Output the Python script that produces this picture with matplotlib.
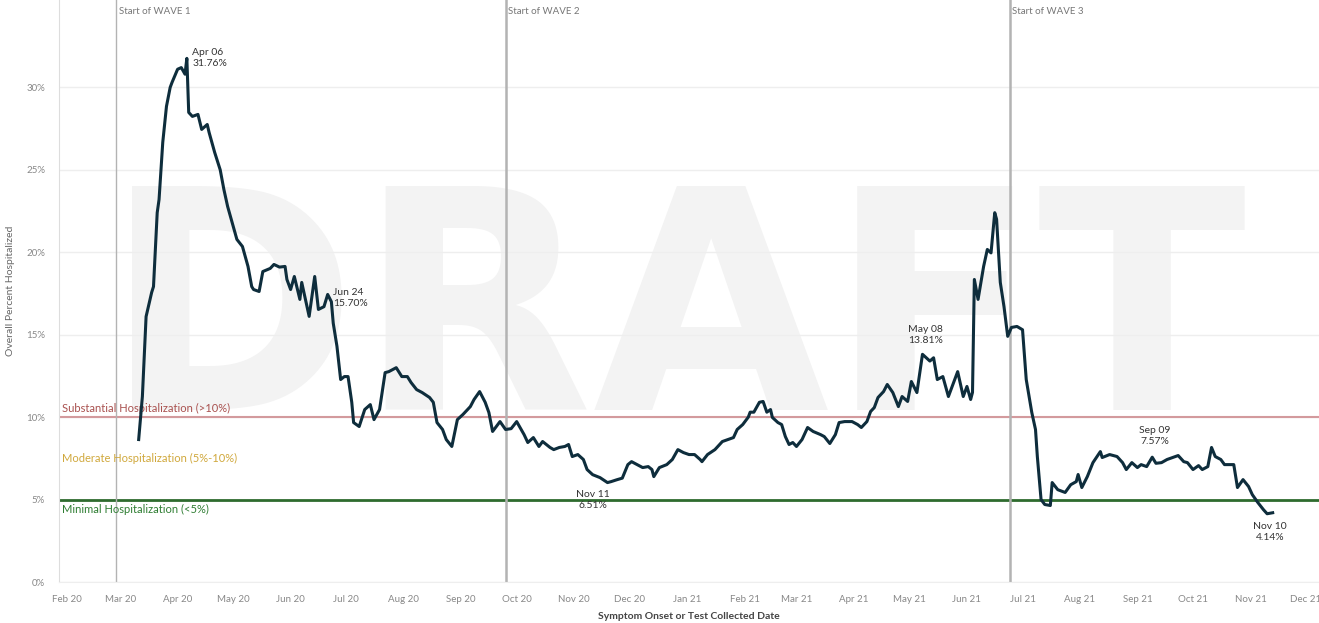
import matplotlib.pyplot as plt
import matplotlib.dates as mdates
import pandas as pd

plt.rcParams['font.family'] = ['Lato', 'DejaVu Sans']

# values (percent hospitalized)
dates = [
    "2020-03-11", "2020-03-13", "2020-03-15", "2020-03-18", "2020-03-19", "2020-03-21",
    "2020-03-22", "2020-03-24", "2020-03-26", "2020-03-28", "2020-03-29", "2020-04-01",
    "2020-04-03", "2020-04-05", "2020-04-06", "2020-04-07", "2020-04-09", "2020-04-12",
    "2020-04-14", "2020-04-17", "2020-04-18", "2020-04-21", "2020-04-24", "2020-04-26",
    "2020-04-28", "2020-05-01", "2020-05-03", "2020-05-06", "2020-05-09", "2020-05-11",
    "2020-05-12", "2020-05-15", "2020-05-17", "2020-05-21", "2020-05-23", "2020-05-26",
    "2020-05-29", "2020-05-30", "2020-06-01", "2020-06-03", "2020-06-06", "2020-06-07",
    "2020-06-11", "2020-06-14", "2020-06-16", "2020-06-19", "2020-06-21", "2020-06-23",
    "2020-06-24", "2020-06-26", "2020-06-28", "2020-06-30", "2020-07-02", "2020-07-04",
    "2020-07-05", "2020-07-08", "2020-07-11", "2020-07-14", "2020-07-16", "2020-07-19",
    "2020-07-22", "2020-07-24", "2020-07-28", "2020-07-31", "2020-08-03", "2020-08-05",
    "2020-08-08", "2020-08-11", "2020-08-15", "2020-08-17", "2020-08-19", "2020-08-22",
    "2020-08-24", "2020-08-27", "2020-08-30", "2020-09-02", "2020-09-06", "2020-09-08",
    "2020-09-11", "2020-09-14", "2020-09-16", "2020-09-18", "2020-09-22", "2020-09-25",
    "2020-09-28", "2020-10-01", "2020-10-05", "2020-10-07", "2020-10-10", "2020-10-13",
    "2020-10-15", "2020-10-19", "2020-10-21", "2020-10-24", "2020-10-27", "2020-10-29",
    "2020-10-31", "2020-11-03", "2020-11-06", "2020-11-08", "2020-11-11", "2020-11-15",
    "2020-11-19", "2020-11-21", "2020-11-24", "2020-11-27", "2020-11-30", "2020-12-02",
    "2020-12-05", "2020-12-08", "2020-12-11", "2020-12-13", "2020-12-14", "2020-12-17",
    "2020-12-21", "2020-12-24", "2020-12-27", "2020-12-30", "2021-01-02", "2021-01-05",
    "2021-01-08", "2021-01-09", "2021-01-12", "2021-01-16", "2021-01-20", "2021-01-23",
    "2021-01-26", "2021-01-28", "2021-01-31", "2021-02-03", "2021-02-04", "2021-02-06",
    "2021-02-09", "2021-02-11", "2021-02-13", "2021-02-15", "2021-02-16", "2021-02-19",
    "2021-02-21", "2021-02-23", "2021-02-25", "2021-02-27", "2021-03-01", "2021-03-04",
    "2021-03-07", "2021-03-10", "2021-03-14", "2021-03-16", "2021-03-19", "2021-03-22",
    "2021-03-24", "2021-03-27", "2021-03-31", "2021-04-03", "2021-04-05", "2021-04-08",
    "2021-04-10", "2021-04-12", "2021-04-14", "2021-04-17", "2021-04-19", "2021-04-22",
    "2021-04-25", "2021-04-27", "2021-04-30", "2021-05-02", "2021-05-05", "2021-05-08",
    "2021-05-12", "2021-05-14", "2021-05-16", "2021-05-19", "2021-05-22", "2021-05-24",
    "2021-05-27", "2021-05-30", "2021-06-01", "2021-06-03", "2021-06-04", "2021-06-05",
    "2021-06-07", "2021-06-10", "2021-06-12", "2021-06-14", "2021-06-16", "2021-06-17",
    "2021-06-19", "2021-06-21", "2021-06-23", "2021-06-25", "2021-06-28", "2021-07-01",
    "2021-07-03", "2021-07-06", "2021-07-08", "2021-07-09", "2021-07-11", "2021-07-13",
    "2021-07-16", "2021-07-17", "2021-07-20", "2021-07-24", "2021-07-27", "2021-07-30",
    "2021-07-31", "2021-08-02", "2021-08-05", "2021-08-08", "2021-08-12", "2021-08-13",
    "2021-08-17", "2021-08-21", "2021-08-24", "2021-08-26", "2021-08-29", "2021-09-01",
    "2021-09-03", "2021-09-06", "2021-09-09", "2021-09-11", "2021-09-14", "2021-09-17",
    "2021-09-20", "2021-09-23", "2021-09-26", "2021-09-28", "2021-10-01", "2021-10-04",
    "2021-10-06", "2021-10-09", "2021-10-11", "2021-10-13", "2021-10-16", "2021-10-18",
    "2021-10-21", "2021-10-23", "2021-10-25", "2021-10-28", "2021-10-31", "2021-11-02",
    "2021-11-05", "2021-11-08", "2021-11-10", "2021-11-13",
]
pct = [
    8.64, 11.25, 16.1, 17.56, 17.92, 22.4,
    23.2, 26.67, 28.85, 30.0, 30.3, 31.1,
    31.2, 30.8, 31.76, 28.48, 28.24, 28.36,
    27.45, 27.75, 27.27, 26.06, 25.0, 23.8,
    22.78, 21.57, 20.78, 20.35, 19.14, 17.92,
    17.74, 17.62, 18.83, 19.02, 19.26, 19.1,
    19.14, 18.35, 17.74, 18.53, 17.14, 18.17,
    16.11, 18.53, 16.53, 16.7, 17.44, 17.0,
    15.70, 14.3, 12.28, 12.46, 12.46, 10.9,
    9.67, 9.43, 10.46, 10.76, 9.85, 10.46,
    12.7, 12.76, 13.0, 12.46, 12.46, 12.1,
    11.67, 11.49, 11.19, 10.9, 9.67, 9.25,
    8.64, 8.22, 9.85, 10.16, 10.64, 11.07,
    11.55, 10.9, 10.28, 9.13, 9.73, 9.25,
    9.3, 9.73, 8.94, 8.46, 8.76, 8.22,
    8.52, 8.16, 8.03, 8.16, 8.22, 8.34,
    7.61, 7.73, 7.43, 6.82, 6.51, 6.33,
    6.03, 6.09, 6.2, 6.3, 7.12, 7.3,
    7.12, 6.94, 7.0, 6.82, 6.39, 6.94,
    7.12, 7.43, 8.03, 7.85, 7.73, 7.73,
    7.43, 7.3, 7.73, 8.03, 8.52, 8.64,
    8.76, 9.25, 9.55, 10.0, 10.3, 10.3,
    10.9, 10.95, 10.3, 10.46, 9.98, 9.67,
    9.55, 8.82, 8.34, 8.46, 8.22, 8.64,
    9.37, 9.13, 8.94, 8.82, 8.4, 8.94,
    9.67, 9.73, 9.73, 9.55, 9.37, 9.73,
    10.34, 10.58, 11.19, 11.55, 11.98, 11.49,
    10.64, 11.25, 10.95, 12.16, 11.49, 13.81,
    13.4, 13.6, 12.28, 12.46, 11.25, 11.86,
    12.76, 11.25, 11.86, 11.07, 11.5, 18.35,
    17.14, 19.14, 20.17, 19.96, 22.4, 22.0,
    18.17, 16.7, 14.9, 15.44, 15.5, 15.3,
    12.28, 10.28, 9.25, 7.6, 5.0, 4.7,
    4.64, 6.03, 5.6, 5.43, 5.9, 6.09,
    6.52, 5.73, 6.4, 7.24, 7.91, 7.55,
    7.73, 7.61, 7.24, 6.82, 7.24, 6.94,
    7.12, 7.0, 7.57, 7.2, 7.24, 7.43,
    7.55, 7.67, 7.3, 7.24, 6.82, 7.06,
    6.82, 7.0, 8.16, 7.61, 7.43, 7.12,
    7.12, 7.12, 5.73, 6.21, 5.79, 5.3,
    4.82, 4.39, 4.14, 4.2,
]

wave_dates = ["2020-02-28", "2020-09-25", "2021-06-24"]
wave_labels = ["Start of WAVE 1", "Start of WAVE 2", "Start of WAVE 3"]
wave_widths = [1.0, 1.8, 1.8]

# (date, text, offset in points, ha, va)
notes = [
    ("2020-04-06", "Apr 06\n31.76%", (4, 0), 'left', 'center'),
    ("2020-06-24", "Jun 24\n15.70%", (0, 18), 'left', 'center'),
    ("2020-11-11", "Nov 11\n6.51%", (0, -18), 'center', 'center'),
    ("2021-05-08", "May 08\n13.81%", (2, 14), 'center', 'center'),
    ("2021-09-09", "Sep 09\n7.57%", (2, 15), 'center', 'center'),
    ("2021-11-10", "Nov 10\n4.14%", (2, -13), 'center', 'center'),
]

x = pd.to_datetime(dates)
series = pd.Series(pct, index=x)

fig = plt.figure(figsize=(13.19, 6.23), dpi=100)
ax = fig.add_axes([59 / 1319, 41 / 623, 1260 / 1319, 582 / 623])

# watermark, kept behind everything in the axes
ax.text(0.512, 0.478, "DRAFT", transform=fig.transFigure, fontsize=220, fontweight='bold',
        color='#f3f3f3', ha='center', va='center', family='DejaVu Sans', zorder=0)

for yv in [0, 5, 10, 15, 20, 25, 30]:
    ax.axhline(yv, color='#eeeeee', lw=1, zorder=1)

ax.axhline(10, color='#d39a9d', lw=1.5, zorder=2)
ax.axhline(5, color='#2e6b2e', lw=2, zorder=2)

xmin = pd.Timestamp("2020-01-28")
xmax = pd.Timestamp("2021-12-08")
tx = mdates.date2num(xmin) + 1.5
ax.text(tx, 10.2, "Substantial Hospitalization (>10%)", color='#a9514f', fontsize=8, va='bottom', zorder=3)
ax.text(tx, 7.5, "Moderate Hospitalization (5%-10%)", color='#d0a83c', fontsize=8, va='center', zorder=3)
ax.text(tx, 4.75, "Minimal Hospitalization (<5%)", color='#2e7d32', fontsize=8, va='top', zorder=3)

for d, lab, w in zip(wave_dates, wave_labels, wave_widths):
    dt = pd.Timestamp(d)
    ax.axvline(dt, color='#b3b3b3', lw=w, zorder=2)
    ax.text(mdates.date2num(dt) + 1.5, 34.9, lab, fontsize=7, color='#777777', va='top', ha='left')

ax.plot(series.index, series.values, color='#0e2d3c', lw=2.2, zorder=4)

for d, txt, off, ha, va in notes:
    dt = pd.Timestamp(d)
    ax.annotate(txt, xy=(dt, series[dt]), xytext=off, textcoords='offset points',
                ha=ha, va=va, fontsize=7.5, color='#333333', linespacing=1.3, zorder=5)

ax.set_xlim(xmin, xmax)
ax.set_ylim(0, 35.3)
ax.set_yticks([0, 5, 10, 15, 20, 25, 30])
ax.set_yticklabels(["0%", "5%", "10%", "15%", "20%", "25%", "30%"])
ax.xaxis.set_major_locator(mdates.MonthLocator())
ax.xaxis.set_major_formatter(mdates.DateFormatter("%b %y"))
ax.tick_params(axis='both', length=0, labelsize=7, colors='#888888')
ax.tick_params(axis='x', pad=9)
ax.tick_params(axis='y', pad=10)

for s in ['top', 'right']:
    ax.spines[s].set_visible(False)
ax.spines['left'].set_color('#dddddd')
ax.spines['bottom'].set_color('#eeeeee')

ax.set_xlabel("Symptom Onset or Test Collected Date", fontsize=7.5, color='#444444',
              fontweight='bold', labelpad=6)
ax.set_ylabel("Overall Percent Hospitalized", fontsize=7.5, color='#666666', labelpad=8)

fig.savefig("out.png", dpi=100)
